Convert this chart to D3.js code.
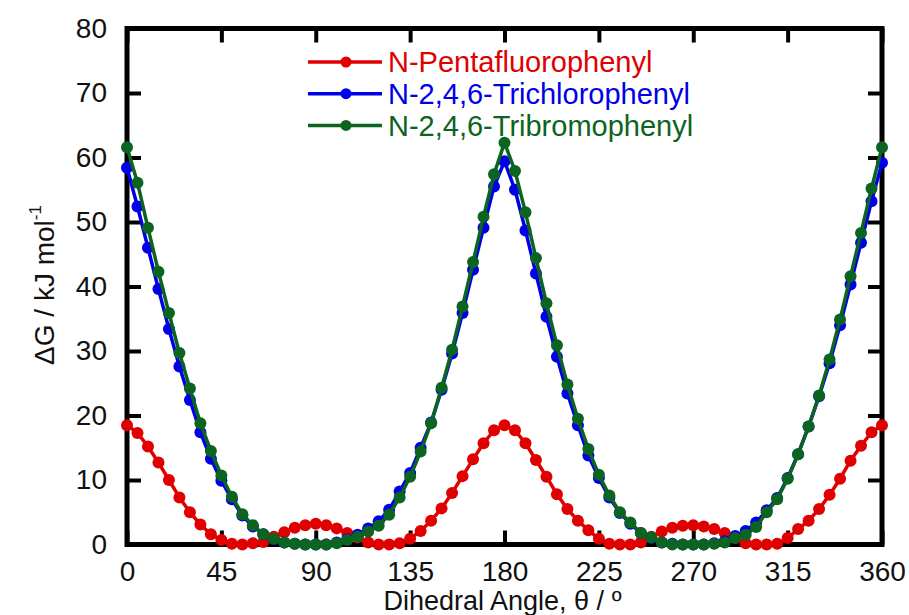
<!DOCTYPE html>
<html>
<head>
<meta charset="utf-8">
<script src="https://cdn.jsdelivr.net/npm/d3@7"></script>
<style>
  body { margin: 0; background: #fff; }
  svg { display: block; font-family: "Liberation Sans", Arial, sans-serif; }
</style>
</head>
<body>
<svg id="chart" width="909" height="615"></svg>
<script>
// ---- data ----
const angles = d3.range(0, 361, 5);
const seriesNames = ["N-Pentafluorophenyl", "N-2,4,6-Trichlorophenyl", "N-2,4,6-Tribromophenyl"];
const seriesColors = ["#e00000", "#0000e8", "#0b6420"];
const pentafluoro = [18.5,17.3,15.2,12.7,10.0,7.3,5.0,3.1,1.6,0.7,0.1,0.0,0.2,0.4,1.2,1.9,2.6,3.0,3.2,3.0,2.5,1.8,1.1,0.3,0.0,0.0,0.2,0.9,2.1,3.7,5.6,8.0,10.6,13.2,15.7,17.7,18.5,17.7,15.7,13.1,10.5,7.8,5.5,3.7,2.2,0.9,0.1,0.0,0.0,0.3,1.2,2.0,2.6,2.9,3.0,2.8,2.4,1.8,1.0,0.2,0.0,0.0,0.1,1.0,2.4,3.7,5.5,7.7,10.2,13.0,15.3,17.4,18.5];
const trichloro = [58.4,52.4,46.0,39.6,33.4,27.6,22.4,17.4,13.3,9.9,7.0,4.5,2.8,1.6,0.8,0.3,0.1,0.0,0.0,0.0,0.3,0.8,1.5,2.5,3.6,5.4,8.2,11.1,15.0,18.9,24.0,29.6,35.9,42.6,49.1,55.5,59.4,55.0,48.7,42.0,35.3,29.1,23.4,18.5,13.8,10.3,7.3,4.9,3.2,1.8,1.0,0.3,0.1,0.0,0.0,0.0,0.2,0.5,1.3,2.1,3.4,5.3,7.2,10.3,14.0,18.3,23.0,28.1,34.0,40.3,46.8,53.2,59.2];
const tribromo = [61.6,56.1,49.1,42.3,35.9,29.7,24.2,18.8,14.5,10.7,7.4,4.7,3.0,1.6,0.9,0.3,0.1,0.0,0.0,0.0,0.2,0.7,1.2,2.0,2.9,4.6,7.3,10.5,14.4,18.8,24.3,30.2,36.9,43.8,50.8,57.4,62.3,57.9,51.5,44.4,37.4,30.9,24.8,19.5,14.8,10.8,7.6,5.0,3.4,1.8,1.1,0.3,0.0,0.0,0.0,0.0,0.1,0.3,1.0,1.5,2.7,5.0,7.0,10.2,14.0,18.3,23.1,28.7,34.9,41.6,48.3,55.2,61.6];
const xTicks = [0,45,90,135,180,225,270,315,360];
const yTicks = [0,10,20,30,40,50,60,70,80];

const seriesValues = [pentafluoro, trichloro, tribromo];

// ---- layout ----
const svg = d3.select("#chart");
const L = 127, R = 882, T = 28.5, B = 544.5;
const x = d3.scaleLinear().domain([0, 360]).range([L, R]);
const y = d3.scaleLinear().domain([0, 80]).range([B, T]);
const tickLen = 14, fontSize = 28;

function styleAxis(g) {
  g.select(".domain").remove();
  g.selectAll(".tick line").attr("stroke", "#000").attr("stroke-width", 4);
  g.selectAll(".tick text").attr("fill", "#111").style("font-size", fontSize + "px")
   .style("font-family", '"Liberation Sans", Arial, sans-serif');
}

svg.append("g").attr("transform", `translate(0,${B})`)
  .call(d3.axisBottom(x).tickValues(xTicks).tickSizeInner(-tickLen).tickSizeOuter(0).tickPadding(17))
  .call(styleAxis);
svg.append("g").attr("transform", `translate(0,${T})`)
  .call(d3.axisTop(x).tickValues(xTicks).tickSizeInner(-tickLen).tickSizeOuter(0).tickFormat(""))
  .call(styleAxis);
svg.append("g").attr("transform", `translate(${L},0)`)
  .call(d3.axisLeft(y).tickValues(yTicks).tickSizeInner(-tickLen).tickSizeOuter(0).tickPadding(20))
  .call(styleAxis);
svg.append("g").attr("transform", `translate(${R},0)`)
  .call(d3.axisRight(y).tickValues(yTicks).tickSizeInner(-tickLen).tickSizeOuter(0).tickFormat(""))
  .call(styleAxis);

svg.append("rect").attr("x", L).attr("y", T).attr("width", R - L).attr("height", B - T)
  .attr("fill", "none").attr("stroke", "#000").attr("stroke-width", 5);

// axis titles
svg.append("text").attr("x", (L + R) / 2 - 2).attr("y", 610).attr("text-anchor", "middle")
  .style("font-size", "27px").attr("fill", "#111").text("Dihedral Angle, θ / º");

const yt = svg.append("text").attr("transform", "translate(54,285) rotate(-90)")
  .attr("text-anchor", "middle").style("font-size", "28px").attr("fill", "#111");
yt.append("tspan").text("ΔG / kJ mol");
yt.append("tspan").attr("dy", "-0.75em").style("font-size", "17px").text("-1");

// series
const line = d3.line().x((d, i) => x(angles[i])).y(d => y(d));
seriesValues.forEach((vals, si) => {
  const g = svg.append("g");
  g.append("path").datum(vals).attr("d", line).attr("fill", "none")
    .attr("stroke", seriesColors[si]).attr("stroke-width", 3.5).attr("stroke-linejoin", "round");
  g.selectAll("circle").data(vals).join("circle")
    .attr("cx", (d, i) => x(angles[i])).attr("cy", d => y(d)).attr("r", 6)
    .attr("fill", seriesColors[si]);
});

// legend
const lg = svg.append("g");
seriesNames.forEach((name, i) => {
  const ly = 62 + i * 31.7;
  lg.append("line").attr("x1", 308).attr("x2", 382).attr("y1", ly).attr("y2", ly)
    .attr("stroke", seriesColors[i]).attr("stroke-width", 3.5);
  lg.append("circle").attr("cx", 346).attr("cy", ly).attr("r", 5.5).attr("fill", seriesColors[i]);
  lg.append("text").attr("x", 388).attr("y", ly).attr("dy", "0.36em")
    .style("font-size", "29px").attr("fill", seriesColors[i]).text(name);
});
</script>
</body>
</html>
